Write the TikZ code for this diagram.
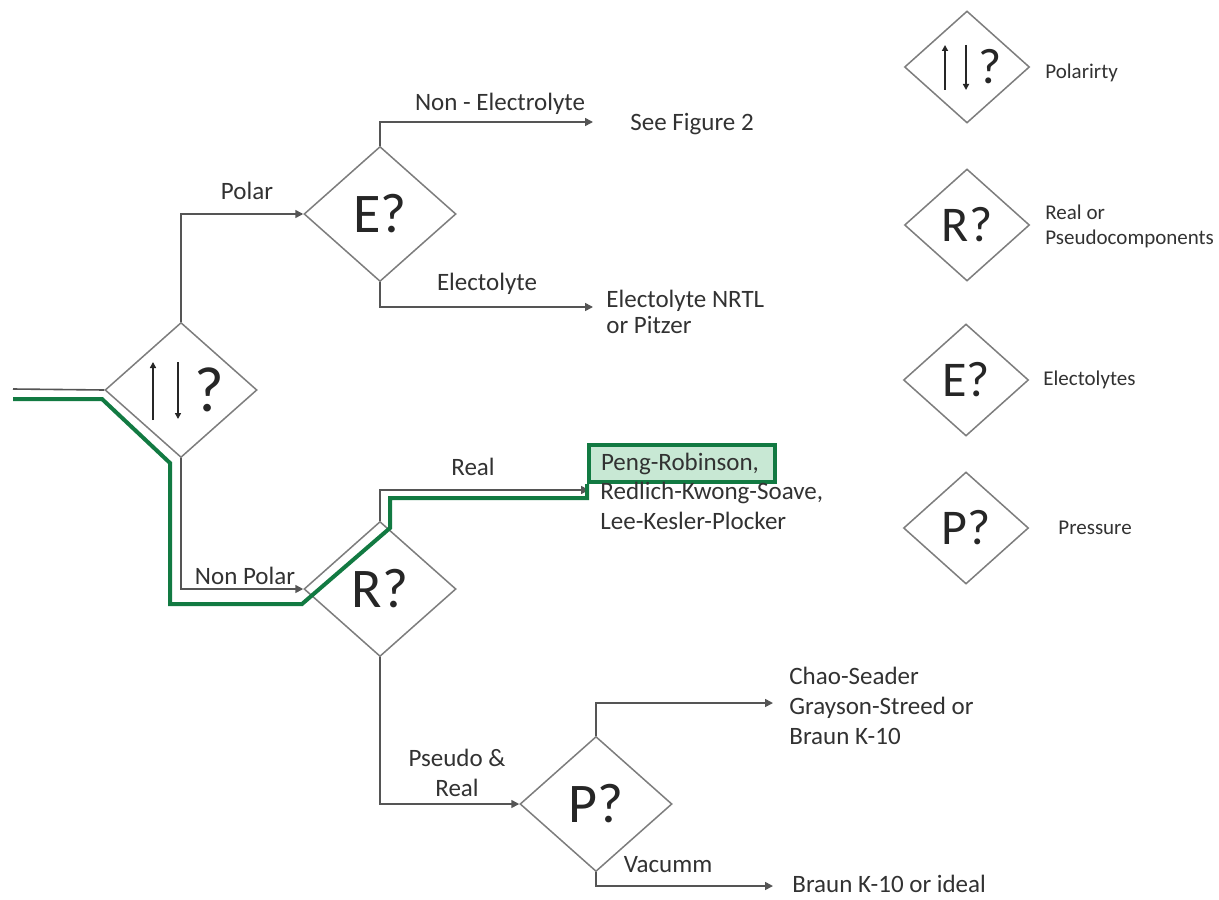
\documentclass[tikz,border=0pt]{standalone}
\usepackage{fontspec}
\setmainfont{Carlito}
\usetikzlibrary{shapes.geometric,arrows.meta}
\definecolor{linegray}{RGB}{85,85,85}
\definecolor{boxgray}{RGB}{125,125,125}
\definecolor{txt}{RGB}{50,50,50}
\definecolor{pathgreen}{RGB}{18,122,66}
\definecolor{hlgreen}{RGB}{200,232,212}
\begin{document}
\begin{tikzpicture}[x=0.5pt,y=-0.5pt,
  decision/.style={diamond, draw=boxgray, line width=0.75pt, inner sep=0pt,
    minimum width=76pt, minimum height=67.5pt, text=black!85,
    font=\fontsize{28}{30}\selectfont},
  legdecision/.style={decision, minimum width=62.5pt, minimum height=56pt,
    font=\fontsize{25}{27}\selectfont},
  flow/.style={draw=linegray, line width=0.8pt, -{Triangle[length=4pt,width=4pt]}},
  plain/.style={draw=linegray, line width=0.8pt},
  polarrow/.style={draw=black!85, line width=0.8pt, -{Triangle[length=3pt,width=3pt]}},
  lbl/.style={text=txt, font=\fontsize{12.5}{15}\selectfont, inner sep=0pt},
  leg/.style={text=txt, font=\fontsize{10.5}{12.5}\selectfont, inner sep=0pt},
  hlpath/.style={draw=pathgreen, line width=2pt, line join=miter},
  hlbox/.style={draw=pathgreen, fill=hlgreen, line width=2pt, text=txt,
    font=\fontsize{12.5}{15}\selectfont, minimum height=18.5pt,
    text width=81pt, inner xsep=6pt, inner ysep=0pt, align=left}
]
\fill[white] (0,0) rectangle (1219,899);
\useasboundingbox (0,0) rectangle (1219,899);

% ---- decision diamonds of the flow chart ----
\node[decision] (pol) at (181,390) {};
\node[decision] (E) at (380,214) {E?};
\node[decision] (R) at (380,589) {R?};
\node[decision] (P) at (596,804) {P?};

% polarity symbol: up arrow, down arrow, question mark
\begin{scope}[shift={(pol.center)}]
  \draw[polarrow] (-28,30) -- (-28,-28);
  \draw[polarrow] (-3,-28) -- (-3,29);
  \node[text=black!85, inner sep=0pt, font=\fontsize{32}{34}\selectfont] (polQ) at (28,0) {?};
\end{scope}

% ---- legend ----
\node[legdecision] (legPol) at (967,67) {};
\begin{scope}[shift={(legPol.center)}]
  \draw[polarrow] (-22,23) -- (-22,-22);
  \draw[polarrow] (-1,-22) -- (-1,23);
  \node[text=black!85, inner sep=0pt, font=\fontsize{25}{27}\selectfont] (legQ) at (23,0) {?};
\end{scope}
\node[legdecision] (legR) at (967,225) {R?};
\node[legdecision] (legE) at (966,380) {E?};
\node[legdecision] (legP) at (966,528) {P?};

\node[leg, anchor=west] (legPolTxt) at (1045,73) {Polarirty};
\node[leg, anchor=west, align=left] (legRTxt) at (1045,226) {Real or\\Pseudocomponents};
\node[leg, anchor=west] (legETxt) at (1043,380) {Electolytes};
\node[leg, anchor=west] (legPTxt) at (1058,528) {Pressure};

% ---- end points of the branches ----
\coordinate (inStart) at (13,389);
\coordinate (nonElEnd) at (593,122);
\coordinate (elEnd) at (593,307);
\coordinate (realEnd) at (589,490);
\coordinate (highEnd) at (773,703);
\coordinate (vacEnd) at (773,886);

% ---- connectors ----
\draw[plain] (inStart) -- (pol.west);
\draw[flow] (pol.north) |- (E.west);
\draw[flow] (E.north) |- (nonElEnd);
\draw[flow] (E.south) |- (elEnd);
\draw[flow] (pol.south) |- (R.west);
\draw[flow] (R.north) |- (realEnd);
\draw[flow] (R.south) |- (P.west);
\draw[flow] (P.north) |- (highEnd);
\draw[flow] (P.south) |- (vacEnd);

% ---- branch labels and results ----
\node[lbl] (polarLbl) at (247,191) {Polar};
\node[lbl] (nonElLbl) at (500,104) {Non - Electrolyte};
\node[lbl, anchor=west] (seeFig) at (630,124) {See Figure 2};
\node[lbl] (elLbl) at (487,284) {Electolyte};
\node[lbl, anchor=west, align=left, font=\fontsize{12.5}{13}\selectfont] (nrtl) at (606,312) {Electolyte NRTL\\or Pitzer};
\node[lbl] (npLbl) at (245,576) {Non Polar};
\node[lbl] (realLbl) at (473,467) {Real};
\node[hlbox, anchor=north west] (peng) at (587,443) {Peng-Robinson,};
\node[lbl, anchor=west, align=left] (rks) at (600,506) {Redlich-Kwong-Soave,\\Lee-Kesler-Plocker};
\node[lbl, align=center] (psLbl) at (457,773) {Pseudo \&\\Real};
\node[lbl, anchor=west, align=left] (chao) at (789,706) {Chao-Seader\\Grayson-Streed or\\Braun K-10};
\node[lbl] (vacLbl) at (668,865) {Vacumm};
\node[lbl, anchor=west] (braun) at (792,884) {Braun K-10 or ideal};

% ---- highlighted route to the selected method ----
\coordinate (gStart) at (13,399);
\draw[hlpath] (gStart) -- (102,399) -- (170,463) -- (170,604) -- (302,604)
  -- (390,528) -- (390,498) -- (587,498) -- (peng.south west);
\end{tikzpicture}
\end{document}
